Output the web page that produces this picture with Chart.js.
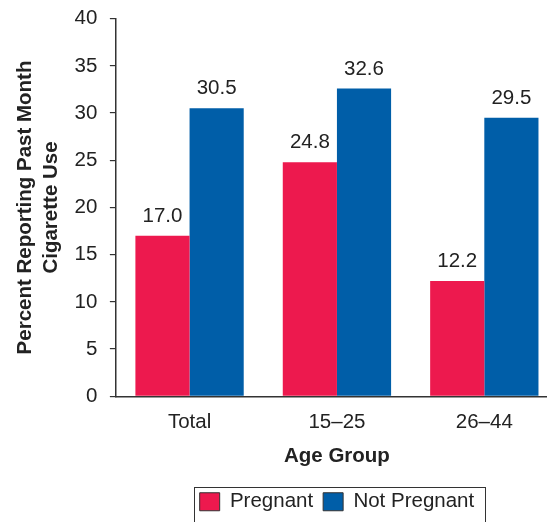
<!DOCTYPE html>
<html>
<head>
<meta charset="utf-8">
<script src="https://cdn.jsdelivr.net/npm/chart.js@4.4.1/dist/chart.umd.min.js"></script>
<style>
  body { margin: 0; overflow: hidden; background: #fff; }
  #wrap { width: 558px; height: 522px; }
</style>
</head>
<body>
<div id="wrap"><canvas id="myChart"></canvas></div>
<script>
const ageGroups = ["Total", "15\u201325", "26\u201344"];
const pregnant = [17.0, 24.8, 12.2];
const notPregnant = [30.5, 32.6, 29.5];
const yTitle = ["Percent Reporting Past Month", "Cigarette Use"];
const xTitle = "Age Group";

const fontFam = "'Liberation Sans', Arial, Helvetica, sans-serif";
const fs = 20.5;

// numbers above bars
const valueLabels = {
  id: "valueLabels",
  afterDatasetsDraw(chart) {
    const ctx = chart.ctx;
    ctx.save();
    ctx.font = fs + "px " + fontFam;
    ctx.fillStyle = "#222";
    ctx.textAlign = "center";
    ctx.textBaseline = "alphabetic";
    chart.data.datasets.forEach((ds, i) => {
      chart.getDatasetMeta(i).data.forEach((bar, j) => {
        ctx.fillText(ds.data[j].toFixed(1), bar.x, bar.y - 14);
      });
    });
    ctx.restore();
  }
};

// box around the legend
const legendFrame = {
  id: "legendFrame",
  afterDraw(chart) {
    const boxes = chart.legend.legendHitBoxes;
    if (!boxes || !boxes.length) return;
    let l = Infinity, r = -Infinity, t = Infinity;
    boxes.forEach(b => {
      l = Math.min(l, b.left);
      r = Math.max(r, b.left + b.width);
      t = Math.min(t, b.top);
    });
    const ctx = chart.ctx;
    ctx.save();
    ctx.strokeStyle = "#333";
    ctx.lineWidth = 1;
    ctx.strokeRect(Math.round(l - 6) + 0.5, Math.round(t - 4) + 0.5, Math.round(r - l + 17), 60);
    ctx.restore();
  }
};

const config = {
  type: "bar",
  data: {
    labels: ageGroups,
    datasets: [
      {
        label: "Pregnant",
        data: pregnant,
        backgroundColor: "#ED194E",
        categoryPercentage: 0.735,
        barPercentage: 1
      },
      {
        label: "Not Pregnant",
        data: notPregnant,
        backgroundColor: "#005EA8",
        categoryPercentage: 0.735,
        barPercentage: 1
      }
    ]
  },
  options: {
    responsive: true,
    maintainAspectRatio: false,
    animation: false,
    layout: { padding: { left: 8, top: 0, right: 0, bottom: 0 } },
    plugins: {
      tooltip: { enabled: false },
      legend: {
        position: "bottom",
        fullSize: false,
        labels: {
          boxWidth: 20,
          boxHeight: 18,
          padding: 10,
          color: "#222",
          font: { family: fontFam, size: fs },
          generateLabels(chart) {
            return Chart.defaults.plugins.legend.labels.generateLabels(chart).map(it => {
              it.strokeStyle = "#333";
              it.lineWidth = 1;
              return it;
            });
          }
        }
      }
    },
    scales: {
      x: {
        grid: { display: false },
        border: { display: true, color: "#333", width: 1.5 },
        ticks: {
          color: "#222",
          padding: 6,
          font: { family: fontFam, size: fs }
        },
        title: {
          display: true,
          text: xTitle,
          color: "#222",
          padding: { top: 3, bottom: 13 },
          font: { family: fontFam, size: fs, weight: "bold" }
        }
      },
      y: {
        min: 0,
        max: 40,
        ticks: {
          stepSize: 5,
          color: "#222",
          padding: 12.5,
          font: { family: fontFam, size: fs, lineHeight: 0.6 }
        },
        grid: {
          drawOnChartArea: false,
          tickLength: 6,
          color: "#333",
          lineWidth: 1.2
        },
        border: { display: true, color: "#333", width: 1.5 },
        title: {
          display: true,
          text: yTitle,
          color: "#222",
          padding: { top: 4, bottom: -2 },
          font: { family: fontFam, size: fs, weight: "bold", lineHeight: 1.27 }
        }
      }
    }
  },
  plugins: [valueLabels, legendFrame]
};

new Chart(document.getElementById("myChart"), config);
</script>
</body>
</html>
